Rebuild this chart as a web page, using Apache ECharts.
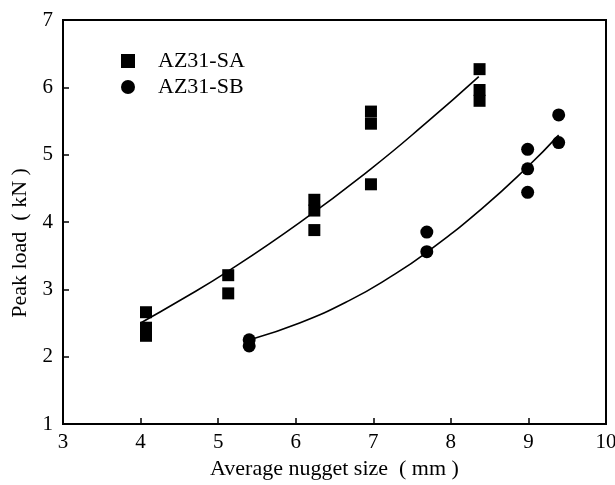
<!DOCTYPE html>
<html>
<head>
<meta charset="utf-8">
<script src="https://cdn.jsdelivr.net/npm/echarts@6/dist/echarts.min.js"></script>
<style>
  html, body { margin: 0; padding: 0; background: #fff; }
  #chart { width: 615px; height: 485px; }
</style>
</head>
<body>
<div id="chart"></div>
<script>
// Measured peak loads for the two sheet conditions
const saNugget = [4.07, 4.07, 4.07, 5.13, 5.13, 6.24, 6.24, 6.24, 6.97, 6.97, 6.97, 8.37, 8.37, 8.37];
const saLoad   = [2.66, 2.43, 2.31, 3.21, 2.94, 4.33, 4.17, 3.88, 5.64, 5.46, 4.56, 6.27, 5.96, 5.80];

const sbNugget = [5.40, 5.40, 7.69, 7.69, 8.99, 8.99, 8.99, 9.39, 9.39];
const sbLoad   = [2.25, 2.16, 3.85, 3.56, 5.08, 4.79, 4.44, 5.59, 5.18];

// Trend curves through each data set
const saFitX = [4.00, 4.50, 5.13, 6.05, 6.97, 7.70, 8.36];
const saFitY = [2.50, 2.83, 3.27, 3.99, 4.79, 5.49, 6.16];

const sbFitX = [5.43, 6.05, 6.70, 7.20, 7.69, 8.40, 8.99, 9.39];
const sbFitY = [2.26, 2.50, 2.84, 3.17, 3.55, 4.20, 4.82, 5.29];

const xTicks = [3, 4, 5, 6, 7, 8, 9, 10];
const yTicks = [1, 2, 3, 4, 5, 6, 7];

const pair = (xs, ys) => xs.map((x, i) => [x, ys[i]]);
const serif = "'Liberation Serif', 'Times New Roman', serif";

const chart = echarts.init(document.getElementById('chart'));
chart.setOption({
  animation: false,
  backgroundColor: '#fff',
  textStyle: { fontFamily: serif, color: '#000' },
  grid: {
    left: 63, right: 9, top: 20, bottom: 61,
    containLabel: false, outerBoundsMode: 'none',
    show: true, borderColor: '#000', borderWidth: 2
  },
  legend: {
    orient: 'vertical',
    left: 116, top: 45,
    itemWidth: 14, itemHeight: 14, itemGap: 4,
    textStyle: { fontFamily: serif, fontSize: 22, color: '#000', padding: [0, 0, 0, 18] },
    data: [
      { name: 'AZ31-SA', icon: 'rect' },
      { name: 'AZ31-SB', icon: 'circle' }
    ]
  },
  xAxis: {
    type: 'value',
    min: xTicks[0], max: xTicks[xTicks.length - 1], interval: 1,
    name: 'Average nugget size  ( mm )',
    nameLocation: 'middle', nameGap: 34,
    nameTextStyle: { fontFamily: serif, fontSize: 22, color: '#000' },
    axisLine: { lineStyle: { color: '#000', width: 2 } },
    axisTick: { inside: true, length: 6, lineStyle: { color: '#000', width: 1.5 } },
    axisLabel: { fontFamily: serif, fontSize: 21, color: '#000', margin: 8 },
    splitLine: { show: false }
  },
  yAxis: {
    type: 'value',
    min: yTicks[0], max: yTicks[yTicks.length - 1], interval: 1,
    name: 'Peak load  ( kN )',
    nameLocation: 'middle', nameGap: 31, nameRotate: 90,
    nameTextStyle: { fontFamily: serif, fontSize: 22, color: '#000', padding: [0, 42, 0, 0] },
    axisLine: { lineStyle: { color: '#000', width: 2 } },
    axisTick: { inside: true, length: 6, lineStyle: { color: '#000', width: 1.5 } },
    axisLabel: { fontFamily: serif, fontSize: 21, color: '#000', margin: 10 },
    splitLine: { show: false }
  },
  series: [
    {
      name: 'AZ31-SA-fit', type: 'line', data: pair(saFitX, saFitY),
      smooth: true, symbol: 'none',
      lineStyle: { color: '#000', width: 1.6 }, z: 2
    },
    {
      name: 'AZ31-SB-fit', type: 'line', data: pair(sbFitX, sbFitY),
      smooth: true, symbol: 'none',
      lineStyle: { color: '#000', width: 1.6 }, z: 2
    },
    {
      name: 'AZ31-SA', type: 'scatter', data: pair(saNugget, saLoad),
      symbol: 'rect', symbolSize: 12,
      itemStyle: { color: '#000', opacity: 1 }, z: 3
    },
    {
      name: 'AZ31-SB', type: 'scatter', data: pair(sbNugget, sbLoad),
      symbol: 'circle', symbolSize: 13,
      itemStyle: { color: '#000', opacity: 1 }, z: 3
    }
  ]
});
</script>
</body>
</html>
